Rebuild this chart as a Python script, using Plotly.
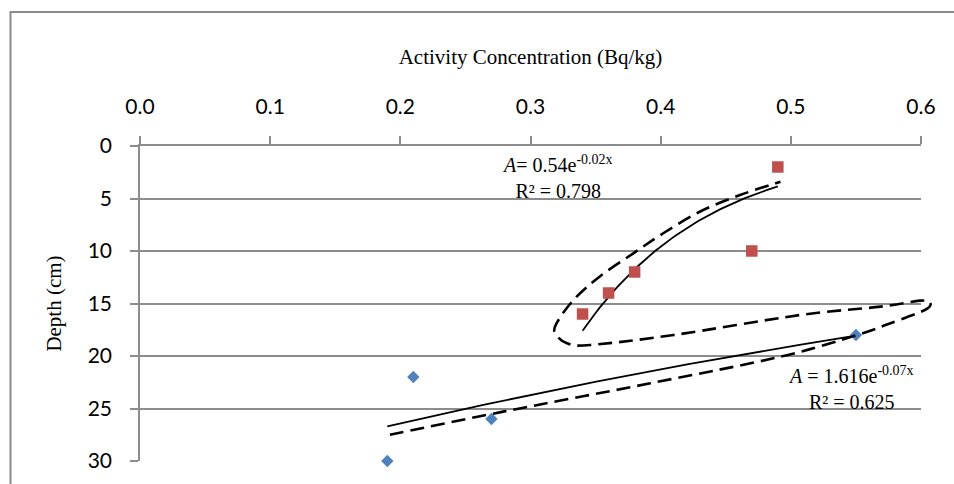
import numpy as np
import plotly.graph_objects as go

# ---------------- data ----------------
red_activity = [0.49, 0.47, 0.38, 0.36, 0.34]
red_depth = [2, 10, 12, 14, 16]
blue_activity = [0.55, 0.21, 0.27, 0.19]
blue_depth = [18, 22, 26, 30]

x_ticks = [0.0, 0.1, 0.2, 0.3, 0.4, 0.5, 0.6]
x_tick_labels = ["0.0", "0.1", "0.2", "0.3", "0.4", "0.5", "0.6"]
y_ticks = [0, 5, 10, 15, 20, 25, 30]
y_tick_labels = ["0", "5", "10", "15", "20", "25", "30"]

x_title = "Activity Concentration (Bq/kg)"
y_title = "Depth (cm)"
eq_red = "<i>A</i>= 0.54e<sup>-0.02x</sup><br>R² = 0.798"
eq_blue = "<i>A</i> = 1.616e<sup>-0.07x</sup><br>R² = 0.625"

# hand-drawn dashed outline around the two groups (activity, depth)
loop_x = [0.192, 0.279, 0.392, 0.492, 0.551, 0.576, 0.603, 0.607, 0.599, 0.569,
          0.507, 0.410, 0.346, 0.328, 0.319, 0.320, 0.333, 0.353, 0.379, 0.402,
          0.430, 0.461, 0.492]
loop_y = [27.5, 25.3, 22.6, 20.07, 18.0, 16.9, 15.62, 14.92, 14.73, 15.3,
          16.1, 18.0, 18.95, 18.79, 17.84, 16.89, 14.67, 12.45, 10.22, 8.31,
          6.26, 4.67, 3.4]

X_RANGE = [0, 0.6]
Y_RANGE = [30, 0]

RED = "#C0504D"
BLUE = "#4F81BD"
GRID = "#8C8C8C"


def exp_trend(x, y):
    k, lnc = np.polyfit(np.asarray(x, float), np.log(np.asarray(y, float)), 1)
    xs = np.linspace(min(x), max(x), 80)
    return xs, np.exp(lnc + k * xs)


def to_paper(x, y):
    px = (np.asarray(x) - X_RANGE[0]) / (X_RANGE[1] - X_RANGE[0])
    py = (np.asarray(y) - Y_RANGE[0]) / (Y_RANGE[1] - Y_RANGE[0])
    return px, py


def smooth_path(xs, ys):
    pts = np.column_stack([xs, ys])
    n = len(pts)
    d = f"M {pts[0][0]:.5f},{pts[0][1]:.5f}"
    for i in range(n - 1):
        p0 = pts[max(i - 1, 0)]
        p1 = pts[i]
        p2 = pts[i + 1]
        p3 = pts[min(i + 2, n - 1)]
        c1 = p1 + (p2 - p0) / 6
        c2 = p2 - (p3 - p1) / 6
        d += f" C {c1[0]:.5f},{c1[1]:.5f} {c2[0]:.5f},{c2[1]:.5f} {p2[0]:.5f},{p2[1]:.5f}"
    return d


fig = go.Figure()

rx, ry = exp_trend(red_activity, red_depth)
bx, by = exp_trend(blue_activity, blue_depth)

fig.add_trace(go.Scatter(x=rx, y=ry, mode="lines",
                         line=dict(color="black", width=1.8), hoverinfo="skip"))
fig.add_trace(go.Scatter(x=bx, y=by, mode="lines",
                         line=dict(color="black", width=1.8), hoverinfo="skip"))

fig.add_trace(go.Scatter(x=blue_activity, y=blue_depth, mode="markers",
                         marker=dict(symbol="diamond", size=9.5, color=BLUE),
                         cliponaxis=False))
fig.add_trace(go.Scatter(x=red_activity, y=red_depth, mode="markers",
                         marker=dict(symbol="square", size=11.5, color=RED),
                         cliponaxis=False))

lpx, lpy = to_paper(loop_x, loop_y)
fig.add_shape(type="path", xref="paper", yref="paper", path=smooth_path(lpx, lpy),
              line=dict(color="black", width=2.6, dash="14px,7px"), layer="above")

# outer chart frame
fig.add_shape(type="rect", xref="paper", yref="paper",
              x0=-0.1658, x1=1.3, y0=-0.3, y1=1.4254,
              line=dict(color="#8A8A8A", width=2), layer="below")

fig.add_annotation(x=0.3207, y=2.95, xref="x", yref="y", text=eq_red,
                   showarrow=False, align="center",
                   font=dict(family="Liberation Serif", size=20, color="black"))
fig.add_annotation(x=0.5466, y=23.05, xref="x", yref="y", text=eq_blue,
                   showarrow=False, align="center",
                   font=dict(family="Liberation Serif", size=20, color="black"))

tick_font = dict(family="Lato", size=21, color="black")

fig.update_xaxes(range=X_RANGE, side="top", tickvals=x_ticks, ticktext=x_tick_labels,
                 showline=True, linecolor=GRID, linewidth=1.5,
                 ticks="outside", ticklen=8, tickcolor=GRID, tickwidth=1.5,
                 showgrid=False, zeroline=False, tickfont=tick_font,
                 ticklabelstandoff=14,
                 title=dict(text=x_title, standoff=22,
                            font=dict(family="Liberation Serif", size=21, color="black")))
fig.update_yaxes(range=Y_RANGE, tickvals=y_ticks, ticktext=y_tick_labels,
                 showline=True, linecolor=GRID, linewidth=1.5,
                 ticks="outside", ticklen=8, tickcolor=GRID, tickwidth=1.5,
                 showgrid=True, gridcolor=GRID, gridwidth=1.5, zeroline=False,
                 tickfont=tick_font, ticklabelstandoff=14,
                 title=dict(text=y_title, standoff=20,
                            font=dict(family="Liberation Serif", size=21, color="black")))

fig.update_layout(width=954, height=484, margin=dict(l=140, r=33, t=146, b=23),
                  paper_bgcolor="white", plot_bgcolor="white", showlegend=False)

fig.write_html("out.html")
